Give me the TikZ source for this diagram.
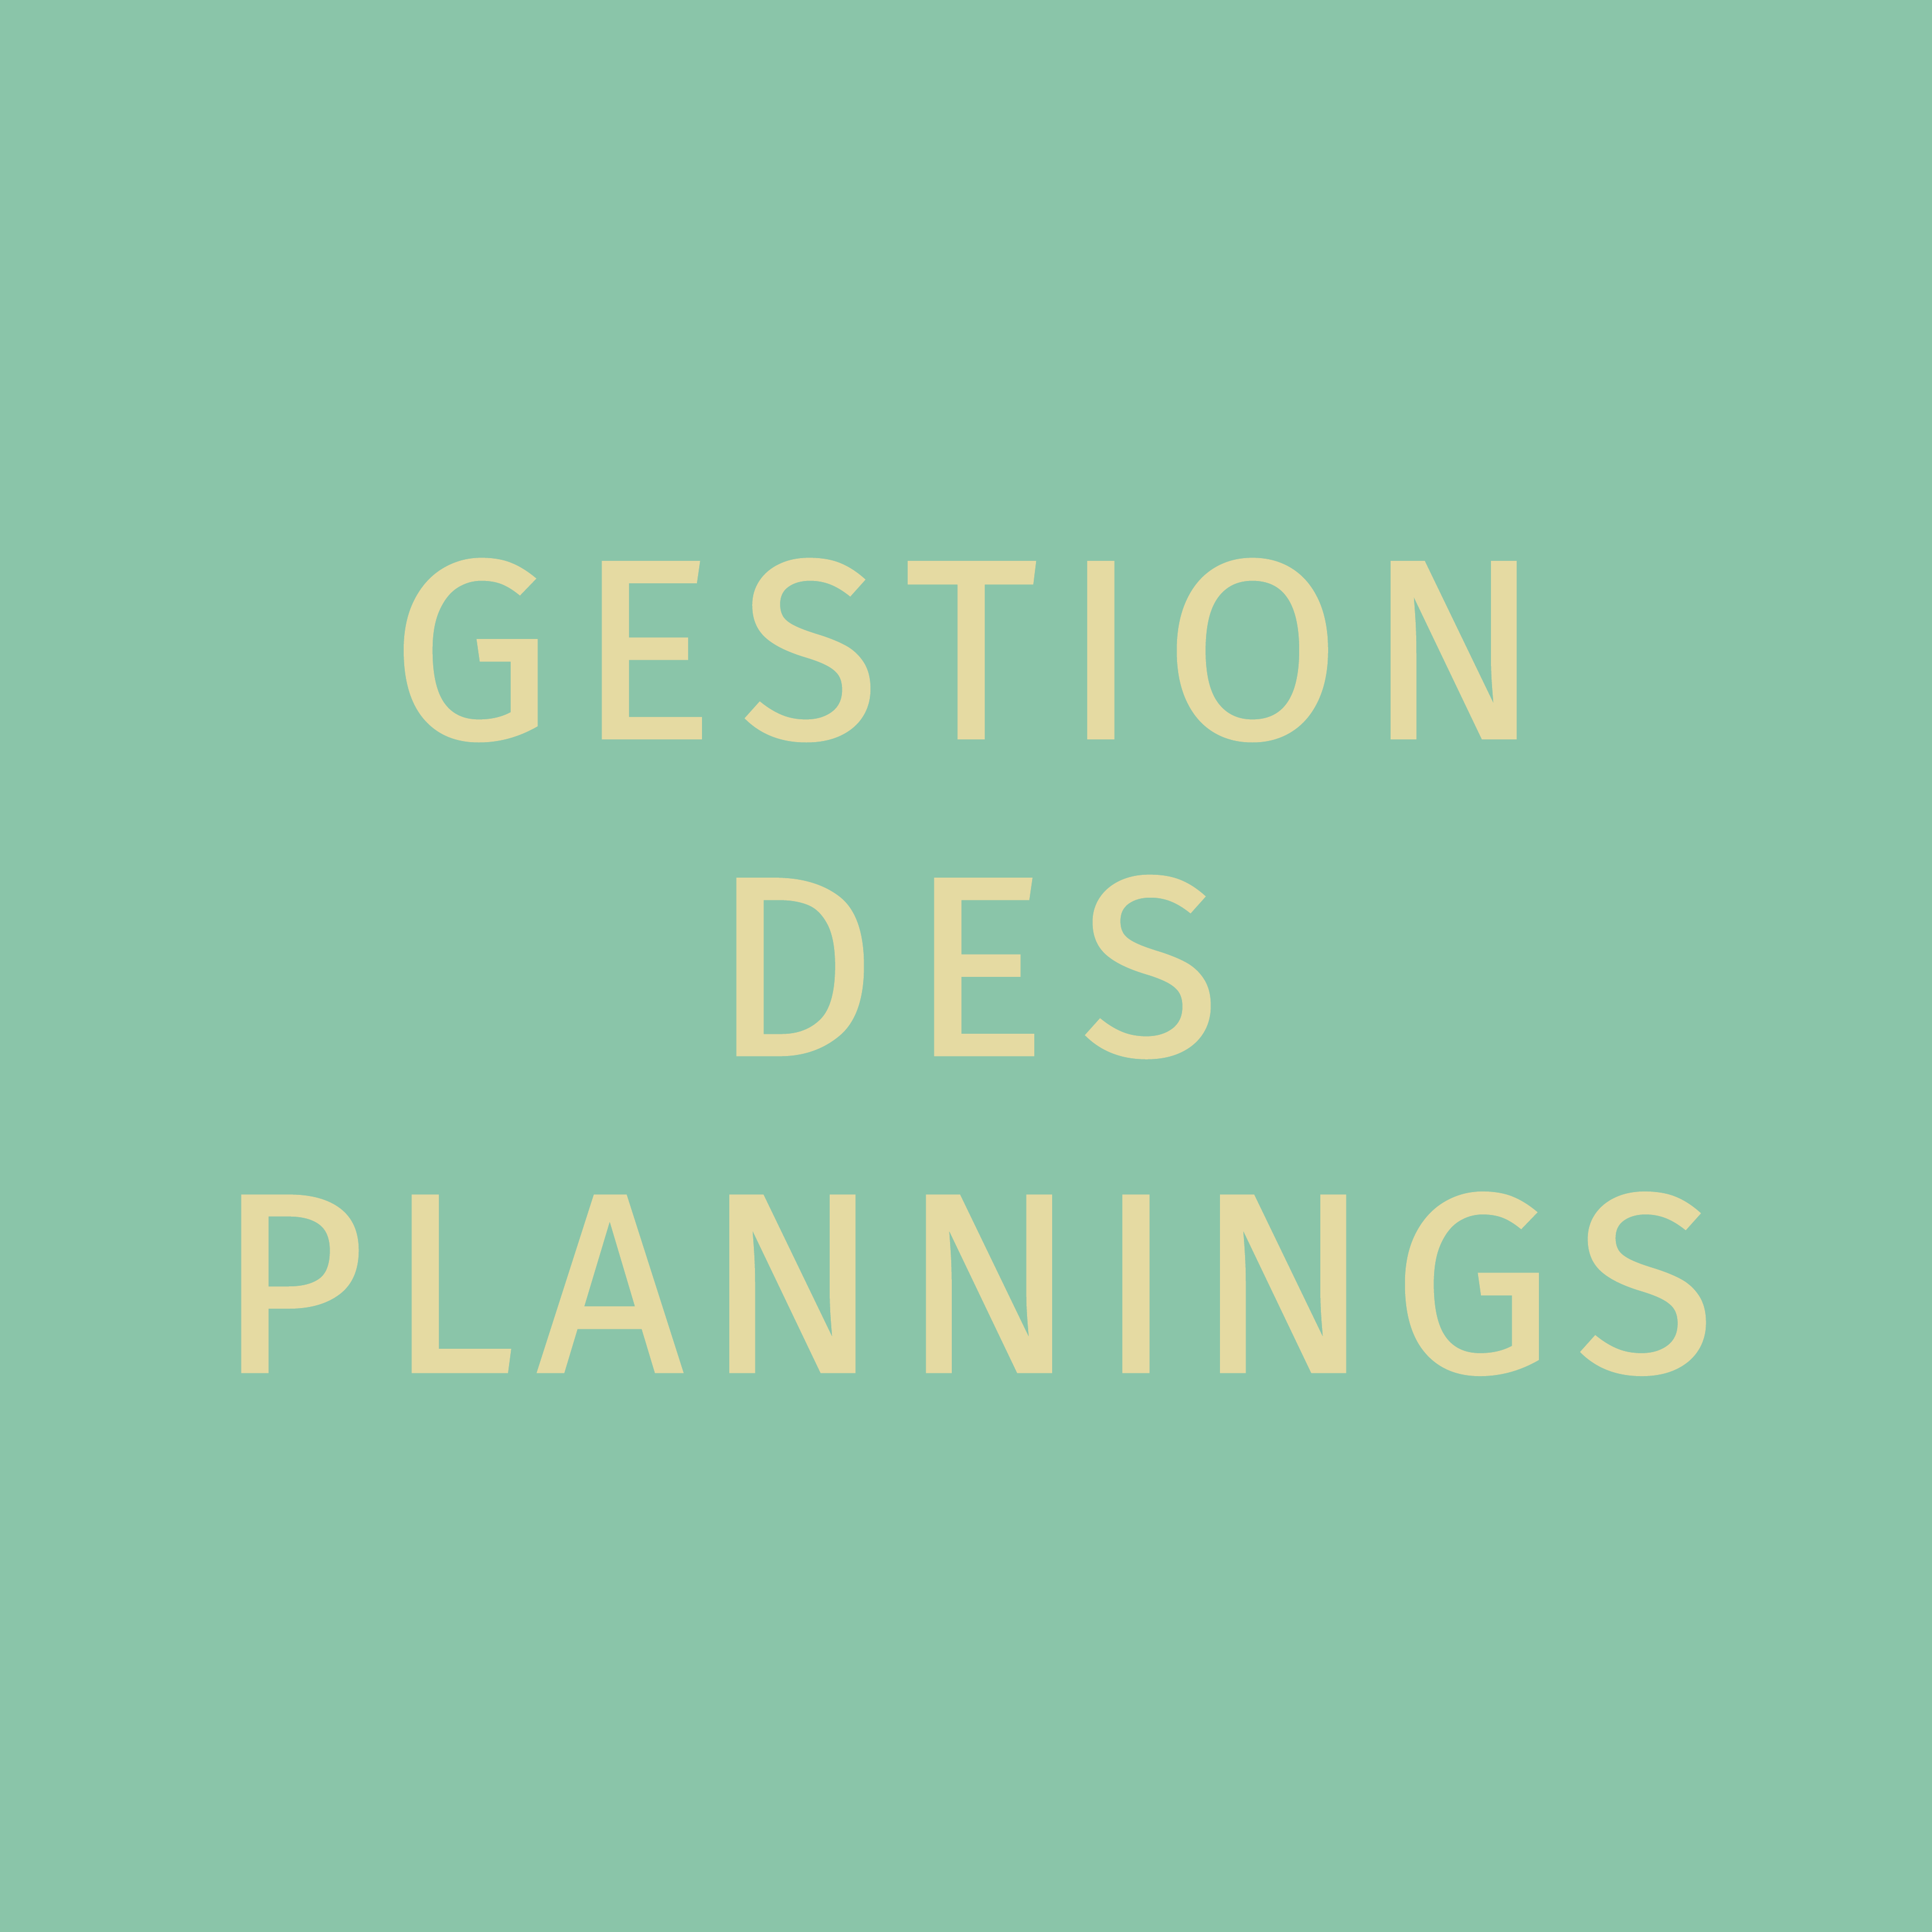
\documentclass[tikz,border=0pt]{standalone}
\usepackage{fontspec}
\setmainfont{Fira Sans}
\definecolor{bggreen}{HTML}{8AC5A9}
\definecolor{titlesand}{HTML}{E5DAA2}
\newcommand{\spreadword}[2]{\makebox[#1][s]{#2}}
\tikzset{
    titleword/.style={inner sep=0pt, text=titlesand, font=\fontsize{75}{80}\selectfont\addfontfeatures{FakeBold=1.2}}
}
\begin{document}
\begin{tikzpicture}
    % Draw the background square
    \fill[bggreen] (0,0) rectangle (20,20);
    \useasboundingbox (0,0) rectangle (20,20);
    
    % Place the three lines of the title, each spread to its width
    \node[titleword] (gestion) at (10,13.27) {\spreadword{11.9cm}{G\hfill E\hfill S\hfill T\hfill I\hfill O\hfill N}};
    \node[titleword] (des) at (10,9.99) {\spreadword{5.25cm}{D\hfill E\hfill S}};
    \node[titleword] (plannings) at (10,6.71) {\spreadword{15.5cm}{P\hfill L\hfill A\hfill N\hfill N\hfill I\hfill N\hfill G\hfill S}};
\end{tikzpicture}
\end{document}
